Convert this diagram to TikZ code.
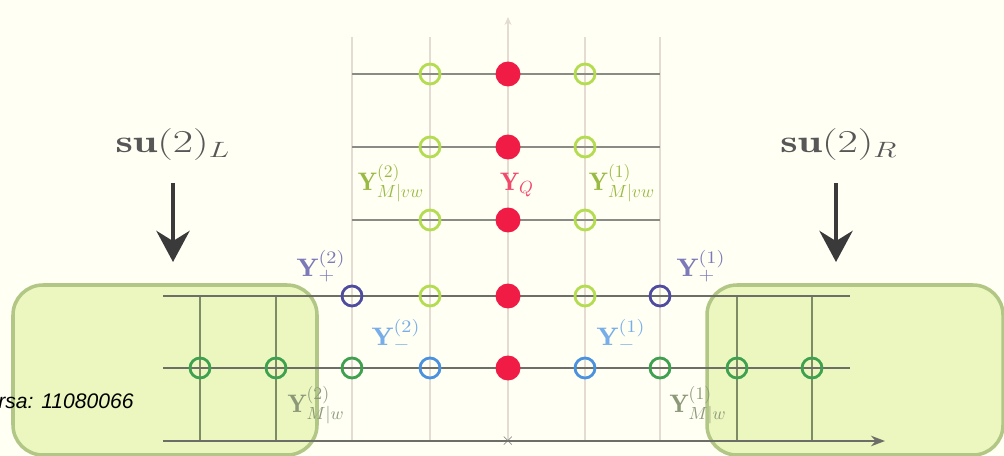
\documentclass[tikz,border=0pt]{standalone}
\usepackage{fontspec}
\newfontfamily\notefont{Liberation Sans}
\usetikzlibrary{arrows.meta}
\definecolor{paper}{HTML}{FFFFF4}
\definecolor{slabfill}{HTML}{EBF7BF}
\definecolor{slabedge}{HTML}{B2C786}
\definecolor{gridpink}{HTML}{E4DCD2}
\definecolor{rowgray}{HTML}{6E6E68}
\definecolor{boxline}{HTML}{7E8C66}
\definecolor{arrowgray}{HTML}{3A3A3A}
\definecolor{qred}{HTML}{F01C46}
\definecolor{vwgreen}{HTML}{B4DC50}
\definecolor{wgreen}{HTML}{3FA050}
\definecolor{pluspurple}{HTML}{4F4CA0}
\definecolor{minusblue}{HTML}{4A92E0}
\definecolor{wlabel}{HTML}{8C9878}

\begin{document}
\begin{tikzpicture}[x=0.02cm, y=-0.02cm, >=Stealth,
  slab/.style={rounded corners=0.6cm, fill=slabfill, draw=slabedge, line width=2pt},
  vgrid/.style={draw=gridpink, line width=0.7pt},
  boxgrid/.style={draw=boxline, line width=0.8pt},
  hline/.style={draw=rowgray, line width=1.1pt},
  bigarrow/.style={-{Stealth[length=0.62cm, width=0.66cm]}, line width=2.8pt, draw=arrowgray},
  ring/.style={circle, draw, line width=1.6pt, minimum size=0.4cm, inner sep=0pt},
  dot/.style={circle, fill=qred, minimum size=0.5cm, inner sep=0pt},
  ylab/.style={font=\Large, inner sep=1pt}]
  \fill[paper] (0,0) rectangle (1004,456);
  \useasboundingbox (0,0) rectangle (1004,456);

  % green boxes
  \draw[slab] (13,285) rectangle (317,455);
  \draw[slab] (707,285) rectangle (1003,455);

  % grid ends
  \coordinate (t3) at (352,37);
  \coordinate (t4) at (430,37);
  \coordinate (t5) at (508,17);
  \coordinate (t6) at (585,37);
  \coordinate (t7) at (660,37);
  \coordinate (t1) at (200,296);
  \coordinate (t2) at (276,296);
  \coordinate (t8) at (737,296);
  \coordinate (t9) at (812,296);
  \coordinate (b1) at (200,441);
  \coordinate (b2) at (276,441);
  \coordinate (b3) at (352,441);
  \coordinate (b4) at (430,441);
  \coordinate (b5) at (508,441);
  \coordinate (b6) at (585,441);
  \coordinate (b7) at (660,441);
  \coordinate (b8) at (737,441);
  \coordinate (b9) at (812,441);
  \coordinate (w1) at (352,74);
  \coordinate (e1) at (660,74);
  \coordinate (w2) at (352,147);
  \coordinate (e2) at (660,147);
  \coordinate (w3) at (352,220);
  \coordinate (e3) at (660,220);
  \coordinate (w4) at (163,296);
  \coordinate (e4) at (850,296);
  \coordinate (w5) at (163,368);
  \coordinate (e5) at (850,368);
  \coordinate (w6) at (163,441);
  \coordinate (e6) at (885,441);

  \draw[vgrid] (b3)--(t3);
  \draw[vgrid] (b4)--(t4);
  \draw[vgrid] (b6)--(t6);
  \draw[vgrid] (b7)--(t7);
  \draw[vgrid, -{Stealth[length=1.6mm, width=1.4mm, fill=arrowgray]}] (b5)--(t5);
  \draw[boxgrid] (t1)--(b1);
  \draw[boxgrid] (t2)--(b2);
  \draw[boxgrid] (t8)--(b8);
  \draw[boxgrid] (t9)--(b9);
  \draw[hline, draw=rowgray!80] (w1)--(e1);
  \draw[hline, draw=rowgray!80] (w2)--(e2);
  \draw[hline, draw=rowgray!80] (w3)--(e3);
  \draw[hline] (w4)--(e4);
  \draw[hline] (w5)--(e5);
  \draw[hline, ->] (w6)--(e6);
  \node[text=arrowgray!70, inner sep=0pt] (origin) at (508,441) {$\times$};

  % Y_Q
  \node[dot] (q1) at (508,74) {};
  \node[dot] (q2) at (508,147) {};
  \node[dot] (q3) at (508,220) {};
  \node[dot] (q4) at (508,296) {};
  \node[dot] (q5) at (508,368) {};
  % Y_{M|vw}
  \node[ring, draw=vwgreen] (vl1) at (430,74) {};
  \node[ring, draw=vwgreen] (vl2) at (430,147) {};
  \node[ring, draw=vwgreen] (vl3) at (430,220) {};
  \node[ring, draw=vwgreen] (vl4) at (430,296) {};
  \node[ring, draw=vwgreen] (vr1) at (585,74) {};
  \node[ring, draw=vwgreen] (vr2) at (585,147) {};
  \node[ring, draw=vwgreen] (vr3) at (585,220) {};
  \node[ring, draw=vwgreen] (vr4) at (585,296) {};
  % Y_+ and Y_-
  \node[ring, draw=pluspurple] (pl) at (352,296) {};
  \node[ring, draw=pluspurple] (pr) at (660,296) {};
  \node[ring, draw=minusblue] (ml) at (430,368) {};
  \node[ring, draw=minusblue] (mr) at (585,368) {};
  % Y_{M|w}
  \node[ring, draw=wgreen] (wl1) at (352,368) {};
  \node[ring, draw=wgreen] (wl2) at (276,368) {};
  \node[ring, draw=wgreen] (wl3) at (200,368) {};
  \node[ring, draw=wgreen] (wr1) at (660,368) {};
  \node[ring, draw=wgreen] (wr2) at (737,368) {};
  \node[ring, draw=wgreen] (wr3) at (812,368) {};

  % labels
  \node[ylab, text=vwgreen!85!black] (lvl) at (391,183) {$\mathbf{Y}^{(2)}_{M|vw}$};
  \node[ylab, text=vwgreen!85!black] (lvr) at (622,183) {$\mathbf{Y}^{(1)}_{M|vw}$};
  \node[ylab, text=qred!80] (lq) at (517,185) {$\mathbf{Y}_{Q}$};
  \node[ylab, text=pluspurple!75] (lpl) at (321,266) {\scalebox{1.15}[1]{$\mathbf{Y}^{(2)}_{+}$}};
  \node[ylab, text=pluspurple!75] (lpr) at (701,266) {\scalebox{1.15}[1]{$\mathbf{Y}^{(1)}_{+}$}};
  \node[ylab, text=minusblue!75] (lml) at (396,335) {\scalebox{1.15}[1]{$\mathbf{Y}^{(2)}_{-}$}};
  \node[ylab, text=minusblue!75] (lmr) at (621,335) {\scalebox{1.15}[1]{$\mathbf{Y}^{(1)}_{-}$}};
  \node[ylab, text=wlabel] (lwl) at (316,405) {$\mathbf{Y}^{(2)}_{M|w}$};
  \node[ylab, text=wlabel] (lwr) at (698,405) {$\mathbf{Y}^{(1)}_{M|w}$};

  % su(2) wings
  \node[font=\LARGE, text=arrowgray!85] (suL) at (173,145) {\scalebox{1.45}[1.05]{$\mathbf{su}(2)_L$}};
  \node[font=\LARGE, text=arrowgray!85] (suR) at (839,145) {\scalebox{1.45}[1.05]{$\mathbf{su}(2)_R$}};
  \coordinate (aL) at (173,183);
  \coordinate (aLt) at (173,262);
  \coordinate (aR) at (836,183);
  \coordinate (aRt) at (836,262);
  \draw[bigarrow] (aL)--(aLt);
  \draw[bigarrow] (aR)--(aRt);

  \node[font=\notefont\itshape\fontsize{12}{14}\selectfont, anchor=west, inner sep=0pt] (note) at (-2,401) {rsa: 11080066};
\end{tikzpicture}
\end{document}
